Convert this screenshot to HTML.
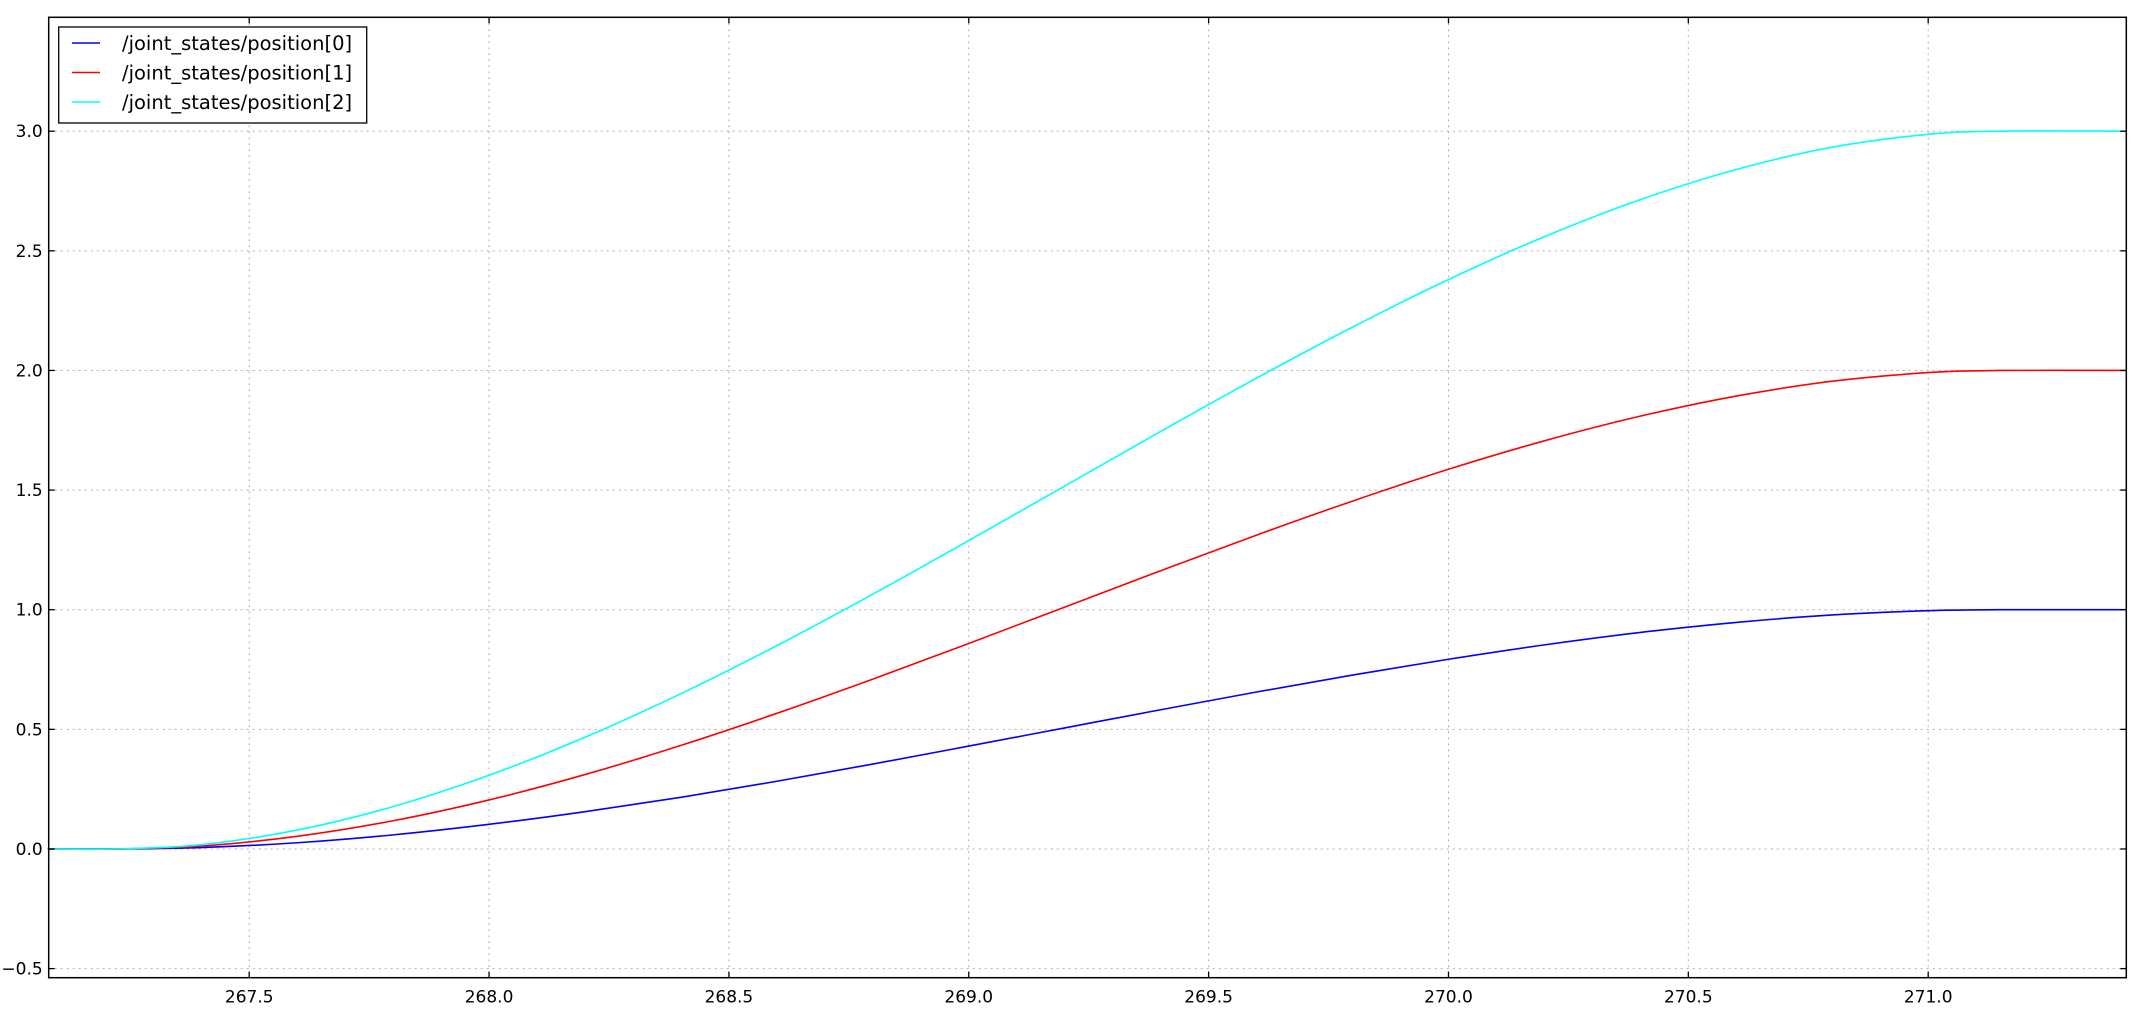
<!DOCTYPE html>
<html><head><meta charset="utf-8"><style>
body{margin:0;background:#fff;}
svg{display:block;font-family:"DejaVu Sans","Liberation Sans",sans-serif;}
</style></head><body>
<svg id="chart" width="2143" height="1017" viewBox="0 0 2143 1017" xmlns="http://www.w3.org/2000/svg">
<rect width="2143" height="1017" fill="#fff"/>
<g id="grid"></g>
<g id="series"></g>
<g id="axes"></g>
<g id="legend"></g>
</svg>
<script>
const times = [267.08,267.22,267.4,267.6,267.8,268.0,268.2,268.4,268.6,268.8,269.0,269.2,269.4,269.6,269.8,270.0,270.2,270.4,270.6,270.8,271.0,271.15,271.41];
const pos0 = [0,0,0.006,0.026,0.059,0.103,0.156,0.216,0.283,0.355,0.430,0.506,0.582,0.656,0.727,0.793,0.853,0.905,0.947,0.978,0.996,1,1];
const pos1 = [0,0,0.012,0.053,0.118,0.205,0.311,0.433,0.567,0.710,0.859,1.011,1.163,1.312,1.454,1.587,1.706,1.809,1.893,1.955,1.991,2,2];
const pos2 = [0,0,0.018,0.079,0.177,0.308,0.467,0.649,0.850,1.065,1.289,1.517,1.745,1.968,2.181,2.380,2.559,2.714,2.840,2.933,2.987,3,3];
const xTicks = [267.5,268.0,268.5,269.0,269.5,270.0,270.5,271.0];
const yTicks = [-0.5,0.0,0.5,1.0,1.5,2.0,2.5,3.0];
const seriesNames = ["/joint_states/position[0]","/joint_states/position[1]","/joint_states/position[2]"];

const L=48.7,R=2126.3,T=17.3,B=977.7;
const xMin=267.082,xMax=271.413,yMin=-0.538,yMax=3.476;
const sx=v=>L+(v-xMin)/(xMax-xMin)*(R-L);
const sy=v=>B-(v-yMin)/(yMax-yMin)*(B-T);
const NS="http://www.w3.org/2000/svg";
function mk(tag,attrs,parent){const e=document.createElementNS(NS,tag);for(const k in attrs)e.setAttribute(k,attrs[k]);parent.appendChild(e);return e;}
const grid=document.getElementById('grid'),axes=document.getElementById('axes'),ser=document.getElementById('series'),leg=document.getElementById('legend');

xTicks.forEach(v=>{
  const x=sx(v);
  const g=mk('line',{x1:x,x2:x,y1:T,y2:B,stroke:'#b0b0b0','stroke-width':1,'stroke-dasharray':'2,4'},grid);
  
  
  const t1=mk('line',{x1:x,x2:x,y1:B,y2:B-6,stroke:'#000','stroke-width':1.3},axes);
  
  
  mk('line',{x1:x,x2:x,y1:T,y2:T+6,stroke:'#000','stroke-width':1.3},axes);
  const lb=mk('text',{x:x,y:B+25,'text-anchor':'middle','font-size':17,fill:'#000'},axes);
  lb.textContent=v.toFixed(1);
  
  
});
yTicks.forEach(v=>{
  const y=sy(v);
  const g=mk('line',{x1:L,x2:R,y1:y,y2:y,stroke:'#b0b0b0','stroke-width':1,'stroke-dasharray':'2,4'},grid);
  
  
  const t1=mk('line',{x1:L,x2:L+6,y1:y,y2:y,stroke:'#000','stroke-width':1.3},axes);
  
  
  mk('line',{x1:R,x2:R-6,y1:y,y2:y,stroke:'#000','stroke-width':1.3},axes);
  const lb=mk('text',{x:L-6,y:y+6,'text-anchor':'end','font-size':17,fill:'#000'},axes);
  lb.textContent=(v<0?'\u2212':'')+Math.abs(v).toFixed(1);
  
  
});
const frame=mk('rect',{x:L,y:T,width:R-L,height:B-T,fill:'none',stroke:'#000','stroke-width':1.5},axes);



function smoothPath(xs,ys){
  const p=xs.map((x,i)=>[sx(x),sy(ys[i])]);
  let d='M'+p[0][0]+','+p[0][1];
  for(let i=0;i<p.length-1;i++){
    const p0=p[Math.max(i-1,0)],p1=p[i],p2=p[i+1],p3=p[Math.min(i+2,p.length-1)];
    const c1=[p1[0]+(p2[0]-p0[0])/6,p1[1]+(p2[1]-p0[1])/6];
    const c2=[p2[0]-(p3[0]-p1[0])/6,p2[1]-(p3[1]-p1[1])/6];
    d+=' C'+c1[0]+','+c1[1]+' '+c2[0]+','+c2[1]+' '+p2[0]+','+p2[1];
  }
  return d;
}
const colors=['#0000ff','#ff0000','#00ffff'];
const data=[pos0,pos1,pos2];
data.forEach((vals,i)=>{
  const p=mk('path',{d:smoothPath(times,vals),fill:'none',stroke:colors[i],'stroke-width':1.6},ser);
  
  
});

const box=mk('rect',{x:58.7,y:27,width:308,height:96,fill:'#fff',stroke:'#000','stroke-width':1.3},leg);


[43,72.5,102].forEach((y,i)=>{
  const g=mk('g',{},leg);
  
  
  mk('line',{x1:72,x2:100,y1:y,y2:y,stroke:colors[i],'stroke-width':1.6},g);
  const t=mk('text',{x:122,y:y+7,'font-size':19.5,fill:'#000'},g);
  t.textContent=seriesNames[i];
});
</script>
</body></html>
